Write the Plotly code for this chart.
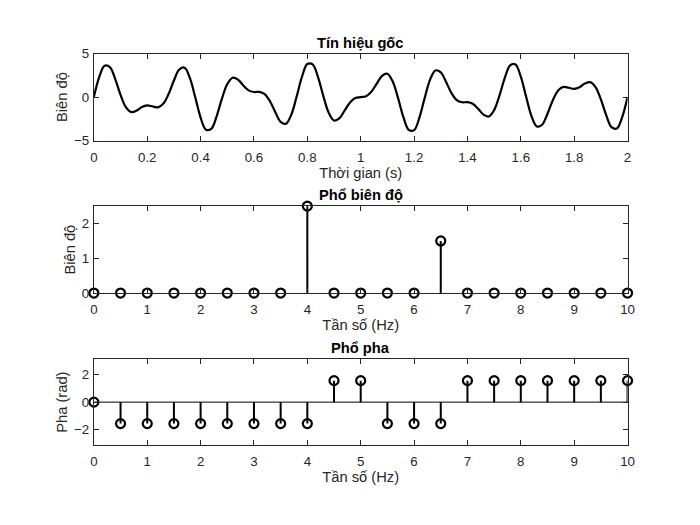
import plotly.graph_objects as go

# ---------------- data ----------------
time_s = [0.00, 0.02, 0.04, 0.06, 0.08, 0.10, 0.12, 0.14, 0.16, 0.18,
          0.20, 0.22, 0.24, 0.26, 0.28, 0.30, 0.32, 0.34, 0.36, 0.38,
          0.40, 0.42, 0.44, 0.46, 0.48, 0.50, 0.52, 0.54, 0.56, 0.58,
          0.60, 0.62, 0.64, 0.66, 0.68, 0.70, 0.72, 0.74, 0.76, 0.78,
          0.80, 0.82, 0.84, 0.86, 0.88, 0.90, 0.92, 0.94, 0.96, 0.98,
          1.00, 1.02, 1.04, 1.06, 1.08, 1.10, 1.12, 1.14, 1.16, 1.18,
          1.20, 1.22, 1.24, 1.26, 1.28, 1.30, 1.32, 1.34, 1.36, 1.38,
          1.40, 1.42, 1.44, 1.46, 1.48, 1.50, 1.52, 1.54, 1.56, 1.58,
          1.60, 1.62, 1.64, 1.66, 1.68, 1.70, 1.72, 1.74, 1.76, 1.78,
          1.80, 1.82, 1.84, 1.86, 1.88, 1.90, 1.92, 1.94, 1.96, 1.98,
          2.00]

signal = [0.000, 2.299, 3.608, 3.451, 2.074, 0.256, -1.160, -1.724, -1.553, -1.142,
          -0.951, -1.072, -1.174, -0.773, 0.354, 1.914, 3.179, 3.379, 2.186, -0.032,
          -2.352, -3.750, -3.651, -2.205, -0.178, 1.500, 2.232, 2.017, 1.339, 0.774,
          0.588, 0.594, 0.346, -0.473, -1.733, -2.842, -3.068, -2.017, 0.070, 2.350,
          3.805, 3.770, 2.299, 0.116, -1.786, -2.684, -2.450, -1.539, -0.614, -0.111,
          0.000, 0.111, 0.614, 1.539, 2.450, 2.684, 1.786, -0.116, -2.299, -3.770,
          -3.805, -2.350, -0.070, 2.017, 3.068, 2.842, 1.733, 0.473, -0.346, -0.594,
          -0.588, -0.774, -1.339, -2.017, -2.232, -1.500, 0.178, 2.205, 3.651, 3.750,
          2.352, 0.032, -2.186, -3.379, -3.179, -1.914, -0.354, 0.773, 1.174, 1.072,
          0.951, 1.142, 1.553, 1.724, 1.160, -0.256, -2.074, -3.451, -3.608, -2.299,
          0.000]

freq_hz = [0, 0.5, 1, 1.5, 2, 2.5, 3, 3.5, 4, 4.5, 5, 5.5, 6, 6.5, 7, 7.5, 8, 8.5, 9, 9.5, 10]

amplitude = [0, 0, 0, 0, 0, 0, 0, 0, 2.5, 0, 0, 0, 0, 1.5, 0, 0, 0, 0, 0, 0, 0]

phase_rad = [0, -1.5708, -1.5708, -1.5708, -1.5708, -1.5708, -1.5708, -1.5708, -1.5708,
             1.5708, 1.5708, -1.5708, -1.5708, -1.5708,
             1.5708, 1.5708, 1.5708, 1.5708, 1.5708, 1.5708, 1.5708]

titles = ["Tín hiệu gốc", "Phổ biên độ", "Phổ pha"]
xlabels = ["Thời gian (s)", "Tần số (Hz)", "Tần số (Hz)"]
ylabels = ["Biên độ", "Biên độ", "Pha (rad)"]

# ---------------- style ----------------
FONT = "Liberation Sans, Arial, Helvetica, sans-serif"
AX = "#262626"
TICK_SIZE = 13.3
LABEL_SIZE = 14.7
W, H = 700, 525
x_dom = [91.3 / W, 633.5 / W]
y_doms = [
    [1 - 137.5 / H, 1 - 48.0 / H],
    [1 - 294.5 / H, 1 - 205.0 / H],
    [1 - 451.0 / H, 1 - 362.5 / H],
]


def stem_segments(xs, ys):
    sx, sy = [], []
    for xv, yv in zip(xs, ys):
        sx += [xv, xv, None]
        sy += [0, yv, None]
    return sx, sy


fig = go.Figure()

# top: signal
fig.add_trace(go.Scatter(x=time_s, y=signal, mode="lines",
                         line=dict(color="black", width=2.2, shape="spline", smoothing=1.0),
                         xaxis="x", yaxis="y", showlegend=False, hoverinfo="skip"))

# middle: amplitude stems
sx, sy = stem_segments(freq_hz, amplitude)
fig.add_trace(go.Scatter(x=sx, y=sy, mode="lines", line=dict(color="black", width=2),
                         xaxis="x2", yaxis="y2", showlegend=False, cliponaxis=False))
fig.add_trace(go.Scatter(x=freq_hz, y=amplitude, mode="markers",
                         marker=dict(symbol="circle-open", size=9, color="black",
                                     line=dict(width=2.2, color="black")),
                         xaxis="x2", yaxis="y2", showlegend=False, cliponaxis=False))

# bottom: phase stems
sx, sy = stem_segments(freq_hz, phase_rad)
fig.add_trace(go.Scatter(x=sx, y=sy, mode="lines", line=dict(color="black", width=2),
                         xaxis="x3", yaxis="y3", showlegend=False, cliponaxis=False))
fig.add_trace(go.Scatter(x=freq_hz, y=phase_rad, mode="markers",
                         marker=dict(symbol="circle-open", size=9, color="black",
                                     line=dict(width=2.2, color="black")),
                         xaxis="x3", yaxis="y3", showlegend=False, cliponaxis=False))

# stem baseline for phase plot
fig.add_shape(type="line", xref="x3 domain", yref="y3", x0=0, x1=1, y0=0, y1=0,
              line=dict(color="black", width=1), layer="below")

common_axis = dict(showline=True, linecolor=AX, linewidth=1, mirror="ticks",
                   ticks="inside", ticklen=5, tickwidth=1, tickcolor=AX,
                   showgrid=False, zeroline=False,
                   tickfont=dict(family=FONT, size=TICK_SIZE, color=AX))

x_ranges = [[0, 2], [0, 10], [0, 10]]
x_dticks = [0.2, 1, 1]
y_ranges = [[-5, 5], [0, 2.5], [-3.14159, 3.14159]]
y_tickvals = [[-5, 0, 5], [0, 1, 2], [-2, 0, 2]]

layout = dict(width=W, height=H, margin=dict(l=0, r=0, t=0, b=0),
              paper_bgcolor="white", plot_bgcolor="white",
              font=dict(family=FONT, color=AX))
annotations = []
for i in range(3):
    xn = "xaxis" if i == 0 else f"xaxis{i + 1}"
    yn = "yaxis" if i == 0 else f"yaxis{i + 1}"
    xa = "y" if i == 0 else f"y{i + 1}"
    ya = "x" if i == 0 else f"x{i + 1}"
    layout[xn] = dict(common_axis, domain=x_dom, anchor=xa, range=x_ranges[i],
                      dtick=x_dticks[i], tick0=0, ticklabelstandoff=4,
                      title=dict(text=xlabels[i], standoff=3,
                                 font=dict(family=FONT, size=LABEL_SIZE, color=AX)))
    layout[yn] = dict(common_axis, domain=y_doms[i], anchor=ya, range=y_ranges[i],
                      tickvals=y_tickvals[i], ticklabelstandoff=1,
                      title=dict(text=ylabels[i], standoff=2,
                                 font=dict(family=FONT, size=LABEL_SIZE, color=AX)))
    annotations.append(dict(text=f"<b>{titles[i]}</b>", xref="paper", yref="paper",
                            x=(x_dom[0] + x_dom[1]) / 2, y=y_doms[i][1],
                            xanchor="center", yanchor="bottom", yshift=1,
                            showarrow=False,
                            font=dict(family=FONT, size=LABEL_SIZE, color="black")))
layout["annotations"] = annotations
fig.update_layout(**layout)

fig.write_html("out.html")
